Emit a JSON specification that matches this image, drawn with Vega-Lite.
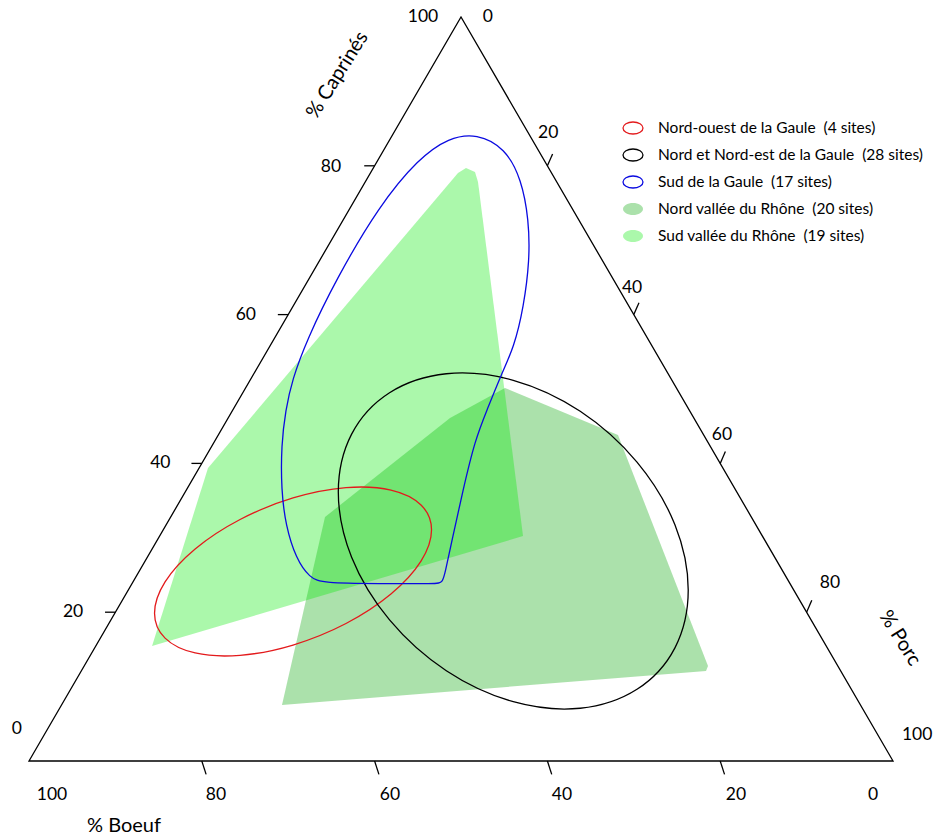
{
  "$schema": "https://vega.github.io/schema/vega-lite/v6.json",
  "width": 864,
  "height": 744,
  "autosize": {"type": "none"},
  "padding": {"left": 29, "top": 17, "right": 40, "bottom": 77},
  "background": "white",
  "config": {
    "view": {"stroke": null},
    "font": "Lato",
    "legend": {"symbolFillColor": "transparent"}
  },
  "datasets": {
    "polygons": [
      {"g": "Nord vallée du Rhône\u00a0 (20 sites)", "i": 0, "x": 29.28, "y": 7.53},
      {"g": "Nord vallée du Rhône\u00a0 (20 sites)", "i": 1, "x": 34.26, "y": 32.80},
      {"g": "Nord vallée du Rhône\u00a0 (20 sites)", "i": 2, "x": 48.73, "y": 46.10},
      {"g": "Nord vallée du Rhône\u00a0 (20 sites)", "i": 3, "x": 55.09, "y": 50.13},
      {"g": "Nord vallée du Rhône\u00a0 (20 sites)", "i": 4, "x": 68.17, "y": 43.82},
      {"g": "Nord vallée du Rhône\u00a0 (20 sites)", "i": 5, "x": 78.59, "y": 12.77},
      {"g": "Nord vallée du Rhône\u00a0 (20 sites)", "i": 6, "x": 78.36, "y": 12.10},
      {"g": "Sud vallée du Rhône\u00a0 (19 sites)", "i": 0, "x": 14.24, "y": 15.46},
      {"g": "Sud vallée du Rhône\u00a0 (19 sites)", "i": 1, "x": 20.72, "y": 39.38},
      {"g": "Sud vallée du Rhône\u00a0 (19 sites)", "i": 2, "x": 49.65, "y": 79.03},
      {"g": "Sud vallée du Rhône\u00a0 (19 sites)", "i": 3, "x": 50.58, "y": 79.70},
      {"g": "Sud vallée du Rhône\u00a0 (19 sites)", "i": 4, "x": 51.62, "y": 79.17},
      {"g": "Sud vallée du Rhône\u00a0 (19 sites)", "i": 5, "x": 51.97, "y": 77.82},
      {"g": "Sud vallée du Rhône\u00a0 (19 sites)", "i": 6, "x": 57.18, "y": 30.24}
    ],
    "ellipses": [
      {"g": "Nord-ouest de la Gaule\u00a0 (4 sites)", "i": 0, "x": 46.59, "y": 31.07},
      {"g": "Nord-ouest de la Gaule\u00a0 (4 sites)", "i": 1, "x": 45.37, "y": 34.42},
      {"g": "Nord-ouest de la Gaule\u00a0 (4 sites)", "i": 2, "x": 41.89, "y": 36.42},
      {"g": "Nord-ouest de la Gaule\u00a0 (4 sites)", "i": 3, "x": 36.69, "y": 36.74},
      {"g": "Nord-ouest de la Gaule\u00a0 (4 sites)", "i": 4, "x": 30.56, "y": 35.35},
      {"g": "Nord-ouest de la Gaule\u00a0 (4 sites)", "i": 5, "x": 24.43, "y": 32.46},
      {"g": "Nord-ouest de la Gaule\u00a0 (4 sites)", "i": 6, "x": 19.23, "y": 28.50},
      {"g": "Nord-ouest de la Gaule\u00a0 (4 sites)", "i": 7, "x": 15.75, "y": 24.08},
      {"g": "Nord-ouest de la Gaule\u00a0 (4 sites)", "i": 8, "x": 14.53, "y": 19.87},
      {"g": "Nord-ouest de la Gaule\u00a0 (4 sites)", "i": 9, "x": 15.75, "y": 16.52},
      {"g": "Nord-ouest de la Gaule\u00a0 (4 sites)", "i": 10, "x": 19.23, "y": 14.52},
      {"g": "Nord-ouest de la Gaule\u00a0 (4 sites)", "i": 11, "x": 24.43, "y": 14.20},
      {"g": "Nord-ouest de la Gaule\u00a0 (4 sites)", "i": 12, "x": 30.56, "y": 15.59},
      {"g": "Nord-ouest de la Gaule\u00a0 (4 sites)", "i": 13, "x": 36.69, "y": 18.48},
      {"g": "Nord-ouest de la Gaule\u00a0 (4 sites)", "i": 14, "x": 41.89, "y": 22.44},
      {"g": "Nord-ouest de la Gaule\u00a0 (4 sites)", "i": 15, "x": 45.37, "y": 26.86},
      {"g": "Nord et Nord-est de la Gaule\u00a0 (28 sites)", "i": 0, "x": 76.30, "y": 22.98},
      {"g": "Nord et Nord-est de la Gaule\u00a0 (28 sites)", "i": 1, "x": 74.76, "y": 31.75},
      {"g": "Nord et Nord-est de la Gaule\u00a0 (28 sites)", "i": 2, "x": 70.37, "y": 40.18},
      {"g": "Nord et Nord-est de la Gaule\u00a0 (28 sites)", "i": 3, "x": 63.80, "y": 47.01},
      {"g": "Nord et Nord-est de la Gaule\u00a0 (28 sites)", "i": 4, "x": 56.05, "y": 51.17},
      {"g": "Nord et Nord-est de la Gaule\u00a0 (28 sites)", "i": 5, "x": 48.30, "y": 52.05},
      {"g": "Nord et Nord-est de la Gaule\u00a0 (28 sites)", "i": 6, "x": 41.73, "y": 49.50},
      {"g": "Nord et Nord-est de la Gaule\u00a0 (28 sites)", "i": 7, "x": 37.34, "y": 43.93},
      {"g": "Nord et Nord-est de la Gaule\u00a0 (28 sites)", "i": 8, "x": 35.80, "y": 36.16},
      {"g": "Nord et Nord-est de la Gaule\u00a0 (28 sites)", "i": 9, "x": 37.34, "y": 27.39},
      {"g": "Nord et Nord-est de la Gaule\u00a0 (28 sites)", "i": 10, "x": 41.73, "y": 18.96},
      {"g": "Nord et Nord-est de la Gaule\u00a0 (28 sites)", "i": 11, "x": 48.30, "y": 12.13},
      {"g": "Nord et Nord-est de la Gaule\u00a0 (28 sites)", "i": 12, "x": 56.05, "y": 7.97},
      {"g": "Nord et Nord-est de la Gaule\u00a0 (28 sites)", "i": 13, "x": 63.80, "y": 7.09},
      {"g": "Nord et Nord-est de la Gaule\u00a0 (28 sites)", "i": 14, "x": 70.37, "y": 9.64},
      {"g": "Nord et Nord-est de la Gaule\u00a0 (28 sites)", "i": 15, "x": 74.76, "y": 15.21}
    ],
    "sud": [
      {"g": "Sud de la Gaule\u00a0 (17 sites)", "i": 0, "x": 51.85, "y": 84.35},
      {"g": "Sud de la Gaule\u00a0 (17 sites)", "i": 1, "x": 55.10, "y": 82.40},
      {"g": "Sud de la Gaule\u00a0 (17 sites)", "i": 2, "x": 57.00, "y": 78.20},
      {"g": "Sud de la Gaule\u00a0 (17 sites)", "i": 3, "x": 57.85, "y": 72.72},
      {"g": "Sud de la Gaule\u00a0 (17 sites)", "i": 4, "x": 57.95, "y": 67.34},
      {"g": "Sud de la Gaule\u00a0 (17 sites)", "i": 5, "x": 57.25, "y": 61.02},
      {"g": "Sud de la Gaule\u00a0 (17 sites)", "i": 6, "x": 56.15, "y": 55.65},
      {"g": "Sud de la Gaule\u00a0 (17 sites)", "i": 7, "x": 54.63, "y": 51.88},
      {"g": "Sud de la Gaule\u00a0 (17 sites)", "i": 8, "x": 53.01, "y": 47.18},
      {"g": "Sud de la Gaule\u00a0 (17 sites)", "i": 9, "x": 51.62, "y": 43.15},
      {"g": "Sud de la Gaule\u00a0 (17 sites)", "i": 10, "x": 50.23, "y": 36.42},
      {"g": "Sud de la Gaule\u00a0 (17 sites)", "i": 11, "x": 48.96, "y": 29.70},
      {"g": "Sud de la Gaule\u00a0 (17 sites)", "i": 12, "x": 48.15, "y": 25.20},
      {"g": "Sud de la Gaule\u00a0 (17 sites)", "i": 13, "x": 47.85, "y": 24.00},
      {"g": "Sud de la Gaule\u00a0 (17 sites)", "i": 14, "x": 47.22, "y": 23.80},
      {"g": "Sud de la Gaule\u00a0 (17 sites)", "i": 15, "x": 40.50, "y": 23.85},
      {"g": "Sud de la Gaule\u00a0 (17 sites)", "i": 16, "x": 34.03, "y": 23.90},
      {"g": "Sud de la Gaule\u00a0 (17 sites)", "i": 17, "x": 32.50, "y": 24.60},
      {"g": "Sud de la Gaule\u00a0 (17 sites)", "i": 18, "x": 30.90, "y": 27.20},
      {"g": "Sud de la Gaule\u00a0 (17 sites)", "i": 19, "x": 29.70, "y": 31.72},
      {"g": "Sud de la Gaule\u00a0 (17 sites)", "i": 20, "x": 29.20, "y": 36.42},
      {"g": "Sud de la Gaule\u00a0 (17 sites)", "i": 21, "x": 29.20, "y": 42.47},
      {"g": "Sud de la Gaule\u00a0 (17 sites)", "i": 22, "x": 29.70, "y": 47.18},
      {"g": "Sud de la Gaule\u00a0 (17 sites)", "i": 23, "x": 30.45, "y": 51.21},
      {"g": "Sud de la Gaule\u00a0 (17 sites)", "i": 24, "x": 32.15, "y": 56.59},
      {"g": "Sud de la Gaule\u00a0 (17 sites)", "i": 25, "x": 35.50, "y": 64.65},
      {"g": "Sud de la Gaule\u00a0 (17 sites)", "i": 26, "x": 40.50, "y": 74.60},
      {"g": "Sud de la Gaule\u00a0 (17 sites)", "i": 27, "x": 45.10, "y": 81.00},
      {"g": "Sud de la Gaule\u00a0 (17 sites)", "i": 28, "x": 48.60, "y": 83.80}
    ],
    "frame": [
      {"i": 0, "x": 0, "y": 0},
      {"i": 1, "x": 100, "y": 0},
      {"i": 2, "x": 50, "y": 100}
    ],
    "ticks": [
      {"x": 10, "y": 20, "x2": 8.8, "y2": 20},
      {"x": 20, "y": 40, "x2": 18.8, "y2": 40},
      {"x": 30, "y": 60, "x2": 28.8, "y2": 60},
      {"x": 40, "y": 80, "x2": 38.8, "y2": 80},
      {"x": 20, "y": 0, "x2": 20.5, "y2": -1.8},
      {"x": 40, "y": 0, "x2": 40.5, "y2": -1.8},
      {"x": 60, "y": 0, "x2": 60.5, "y2": -1.8},
      {"x": 80, "y": 0, "x2": 80.5, "y2": -1.8},
      {"x": 60, "y": 80, "x2": 60.6, "y2": 81.6},
      {"x": 70, "y": 60, "x2": 70.6, "y2": 61.6},
      {"x": 80, "y": 40, "x2": 80.6, "y2": 41.6},
      {"x": 90, "y": 20, "x2": 90.6, "y2": 21.6}
    ],
    "labels": [
      {"t": "100", "x": 45.6, "y": 100.0},
      {"t": "80", "x": 34.95, "y": 79.8},
      {"t": "60", "x": 25.1, "y": 59.9},
      {"t": "40", "x": 15.2, "y": 40.1},
      {"t": "20", "x": 5.1, "y": 20.0},
      {"t": "0", "x": -1.4, "y": 4.3},
      {"t": "100", "x": 2.66, "y": -4.57},
      {"t": "80", "x": 21.64, "y": -4.57},
      {"t": "60", "x": 41.78, "y": -4.57},
      {"t": "40", "x": 61.69, "y": -4.57},
      {"t": "20", "x": 81.83, "y": -4.57},
      {"t": "0", "x": 97.69, "y": -4.57},
      {"t": "0", "x": 53.1, "y": 100.0},
      {"t": "20", "x": 60.1, "y": 84.4},
      {"t": "40", "x": 69.8, "y": 63.6},
      {"t": "60", "x": 80.2, "y": 43.8},
      {"t": "80", "x": 92.7, "y": 23.9},
      {"t": "100", "x": 102.8, "y": 3.5}
    ]
  },
  "encoding": {
    "x": {"field": "x", "type": "quantitative", "scale": {"domain": [0, 100], "nice": false, "zero": false}, "axis": null},
    "y": {"field": "y", "type": "quantitative", "scale": {"domain": [0, 100], "nice": false, "zero": false}, "axis": null}
  },
  "layer": [
    {
      "data": {"name": "polygons"},
      "mark": {"type": "line", "interpolate": "linear-closed", "strokeWidth": 1.3},
      "encoding": {
        "order": {"field": "i", "type": "quantitative"},
        "fill": {
          "field": "g", "type": "nominal",
          "scale": {
            "domain": ["Nord-ouest de la Gaule\u00a0 (4 sites)", "Nord et Nord-est de la Gaule\u00a0 (28 sites)", "Sud de la Gaule\u00a0 (17 sites)", "Nord vallée du Rhône\u00a0 (20 sites)", "Sud vallée du Rhône\u00a0 (19 sites)"],
            "range": ["transparent", "transparent", "transparent", "rgba(0,165,0,0.33)", "rgba(0,235,0,0.33)"]
          },
          "legend": {"title": null, "orient": "none", "legendX": 593, "legendY": 100, "padding": 0, "symbolType": "M-1,0A1,0.6,0,1,1,1,0A1,0.6,0,1,1,-1,0Z", "symbolSize": 400, "symbolStrokeWidth": 1.3, "labelFont": "Lato", "labelFontSize": 15.5, "labelColor": "black", "labelOffset": 14, "rowPadding": 7, "labelLimit": 400}
        },
        "stroke": {
          "field": "g", "type": "nominal",
          "scale": {
            "domain": ["Nord-ouest de la Gaule\u00a0 (4 sites)", "Nord et Nord-est de la Gaule\u00a0 (28 sites)", "Sud de la Gaule\u00a0 (17 sites)", "Nord vallée du Rhône\u00a0 (20 sites)", "Sud vallée du Rhône\u00a0 (19 sites)"],
            "range": ["#e31a1c", "black", "#0a0ae0", "transparent", "transparent"]
          },
          "legend": {"title": null, "orient": "none", "legendX": 593, "legendY": 100, "padding": 0, "symbolType": "M-1,0A1,0.6,0,1,1,1,0A1,0.6,0,1,1,-1,0Z", "symbolSize": 400, "symbolStrokeWidth": 1.3, "labelFont": "Lato", "labelFontSize": 15.5, "labelColor": "black", "labelOffset": 14, "rowPadding": 7, "labelLimit": 400}
        }
      }
    },
    {
      "data": {"name": "ellipses"},
      "mark": {"type": "line", "interpolate": "cardinal-closed", "strokeWidth": 1.3},
      "encoding": {
        "order": {"field": "i", "type": "quantitative"},
        "fill": {"field": "g", "type": "nominal"},
        "stroke": {"field": "g", "type": "nominal"}
      }
    },
    {
      "data": {"name": "sud"},
      "mark": {"type": "line", "interpolate": "basis-closed", "strokeWidth": 1.3},
      "encoding": {
        "order": {"field": "i", "type": "quantitative"},
        "fill": {"field": "g", "type": "nominal"},
        "stroke": {"field": "g", "type": "nominal"}
      }
    },
    {
      "data": {"name": "frame"},
      "mark": {"type": "line", "interpolate": "linear-closed", "color": "black", "strokeWidth": 1.3},
      "encoding": {"order": {"field": "i", "type": "quantitative"}}
    },
    {
      "data": {"name": "ticks"},
      "mark": {"type": "rule", "color": "black", "strokeWidth": 1.3},
      "encoding": {"x2": {"field": "x2"}, "y2": {"field": "y2"}}
    },
    {
      "data": {"name": "labels"},
      "mark": {"type": "text", "font": "Lato", "fontSize": 17.5, "color": "black", "align": "center", "baseline": "middle"},
      "encoding": {"text": {"field": "t", "type": "nominal"}}
    },
    {
      "data": {"values": [{"t": "% Caprinés", "x": 35.7, "y": 92.2}]},
      "mark": {"type": "text", "font": "Lato", "fontSize": 20, "color": "black", "align": "center", "baseline": "middle", "angle": 302},
      "encoding": {"text": {"field": "t", "type": "nominal"}}
    },
    {
      "data": {"values": [{"t": "% Porc", "x": 100.8, "y": 16.5}]},
      "mark": {"type": "text", "font": "Lato", "fontSize": 20, "color": "black", "align": "center", "baseline": "middle", "angle": 58},
      "encoding": {"text": {"field": "t", "type": "nominal"}}
    },
    {
      "data": {"values": [{"t": "% Boeuf", "x": 11.0, "y": -8.8}]},
      "mark": {"type": "text", "font": "Lato", "fontSize": 20, "color": "black", "align": "center", "baseline": "middle"},
      "encoding": {"text": {"field": "t", "type": "nominal"}}
    }
  ]
}
